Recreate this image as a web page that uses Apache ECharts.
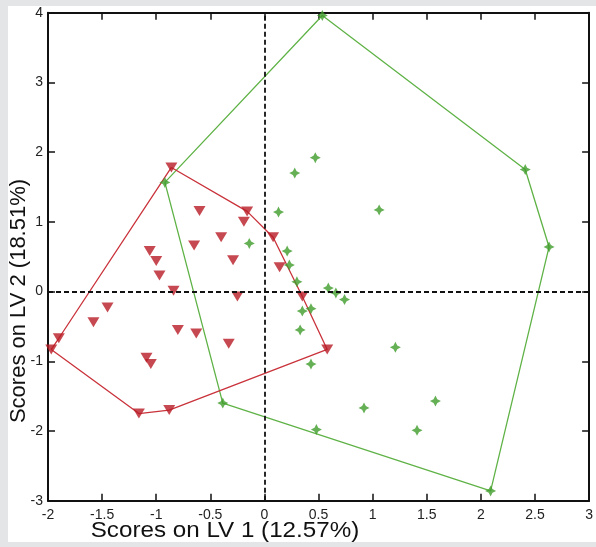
<!DOCTYPE html>
<html>
<head>
<meta charset="utf-8">
<script src="https://cdn.jsdelivr.net/npm/echarts@6/dist/echarts.min.js"></script>
<style>
html,body{margin:0;padding:0;background:#e4e5e7;}
#panel{position:absolute;left:8px;top:6px;width:588px;height:536px;background:#fff;}
#chart{position:absolute;left:0;top:0;width:596px;height:547px;}
</style>
</head>
<body>
<div id="panel"></div>
<div id="chart"></div>
<script>
// Class 1 (red inverted triangles)
const redX = [-0.86,-0.60,-0.16,-0.19,0.08,-1.06,-0.65,-0.40,-1.00,-0.29,0.14,-0.97,-0.84,-0.25,-1.45,-1.58,-1.90,-1.97,-0.80,-0.63,-0.33,-1.09,-1.05,-1.16,-0.88,0.35,0.58];
const redY = [1.78,1.155,1.15,1.00,0.78,0.58,0.66,0.78,0.44,0.45,0.35,0.23,0.01,-0.07,-0.23,-0.44,-0.67,-0.83,-0.55,-0.60,-0.75,-0.95,-1.04,-1.75,-1.70,-0.07,-0.83];
// Class 2 (green stars)
const greenX = [0.535,2.41,2.63,0.47,0.28,1.06,-0.92,0.13,-0.14,0.21,0.23,0.30,0.59,0.66,0.74,0.35,0.43,0.33,0.43,1.21,0.92,1.58,0.48,1.41,2.09,-0.385];
const greenY = [3.96,1.75,0.64,1.92,1.70,1.17,1.566,1.14,0.69,0.58,0.38,0.14,0.05,-0.02,-0.115,-0.28,-0.245,-0.55,-1.04,-0.80,-1.67,-1.57,-1.98,-1.99,-2.86,-1.60];
// Convex hull vertices (closed)
const redHullX = [-0.86,-0.16,0.08,0.35,0.58,-0.88,-1.16,-1.97,-1.90,-0.86];
const redHullY = [1.78,1.15,0.78,-0.07,-0.83,-1.70,-1.75,-0.83,-0.67,1.78];
const greenHullX = [0.535,2.41,2.63,2.09,-0.385,-0.92,0.535];
const greenHullY = [3.96,1.75,0.64,-2.86,-1.60,1.566,3.96];
// Tick labels
const xTickLabels = ['-2','-1.5','-1','-0.5','0','0.5','1','1.5','2','2.5','3'];
const yTickLabels = ['-3','-2','-1','0','1','2','3','4'];
const xTitle = 'Scores on LV 1 (12.57%)';
const yTitle = 'Scores on LV 2 (18.51%)';

const zip = (a,b) => a.map((v,i)=>[v,b[i]]);
const chart = echarts.init(document.getElementById('chart'), null, {renderer:'canvas'});
const tickFont = {fontFamily:"'Liberation Sans Narrow','Liberation Sans',Arial,sans-serif", fontSize:14, color:'#222'};
const axisCommon = {
  axisLine:{show:true,onZero:false,lineStyle:{color:'#111',width:2}},
  axisTick:{show:true,inside:true,length:7,lineStyle:{color:'#111',width:1.5}},
  splitLine:{show:false}
};
const starPath = 'path://M0,-10 L3.4,-3.4 L10,0 L3.4,3.4 L0,10 L-3.4,3.4 L-10,0 L-3.4,-3.4 Z';
chart.setOption({
  backgroundColor:'transparent',
  animation:false,
  grid:{left:48,right:3.3,top:12.7,bottom:46.3,containLabel:false},
  xAxis:[
    Object.assign({type:'value',min:-2,max:3,interval:0.5,position:'bottom',
      axisLabel:Object.assign({margin:7,formatter:v=>xTickLabels[Math.round((v+2)/0.5)]},tickFont)},axisCommon),
    Object.assign({type:'value',min:-2,max:3,interval:0.5,position:'top',axisLabel:{show:false}},axisCommon)
  ],
  yAxis:[
    Object.assign({type:'value',min:-3,max:4,interval:1,position:'left',
      axisLabel:Object.assign({margin:5,formatter:v=>yTickLabels[Math.round(v+3)]},tickFont)},axisCommon),
    Object.assign({type:'value',min:-3,max:4,interval:1,position:'right',axisLabel:{show:false}},axisCommon)
  ],
  graphic:[
    {type:'text',position:[225,531],scaleX:1.1,scaleY:1,
      style:{text:xTitle,x:0,y:0,textAlign:'center',textVerticalAlign:'middle',
      font:"22px 'Liberation Sans',Arial,sans-serif",fill:'#111'}},
    {type:'text',position:[19,301],rotation:Math.PI/2,
      style:{text:yTitle,x:0,y:0,textAlign:'center',textVerticalAlign:'middle',
      font:"22px 'Liberation Sans',Arial,sans-serif",fill:'#111'}}
  ],
  series:[
    {type:'line',data:[],silent:true,z:1,
      markLine:{silent:true,symbol:['none','none'],label:{show:false},animation:false,
        lineStyle:{color:'#111',type:[5,3],width:1.8},
        data:[{xAxis:0},{yAxis:0}]}},
    {type:'line',data:zip(greenHullX,greenHullY),symbol:'none',z:2,
      lineStyle:{color:'#5fb246',width:1.3}},
    {type:'line',data:zip(redHullX,redHullY),symbol:'none',z:2,
      lineStyle:{color:'#c9323a',width:1.3}},
    {type:'scatter',data:zip(greenX,greenY),symbol:starPath,symbolSize:11,z:3,
      itemStyle:{color:'#3f9c2a'}},
    {type:'scatter',data:zip(redX,redY),symbol:'triangle',symbolRotate:180,symbolSize:[12,10],z:3,
      itemStyle:{color:'#b81c25'}}
  ]
});
</script>
</body>
</html>
